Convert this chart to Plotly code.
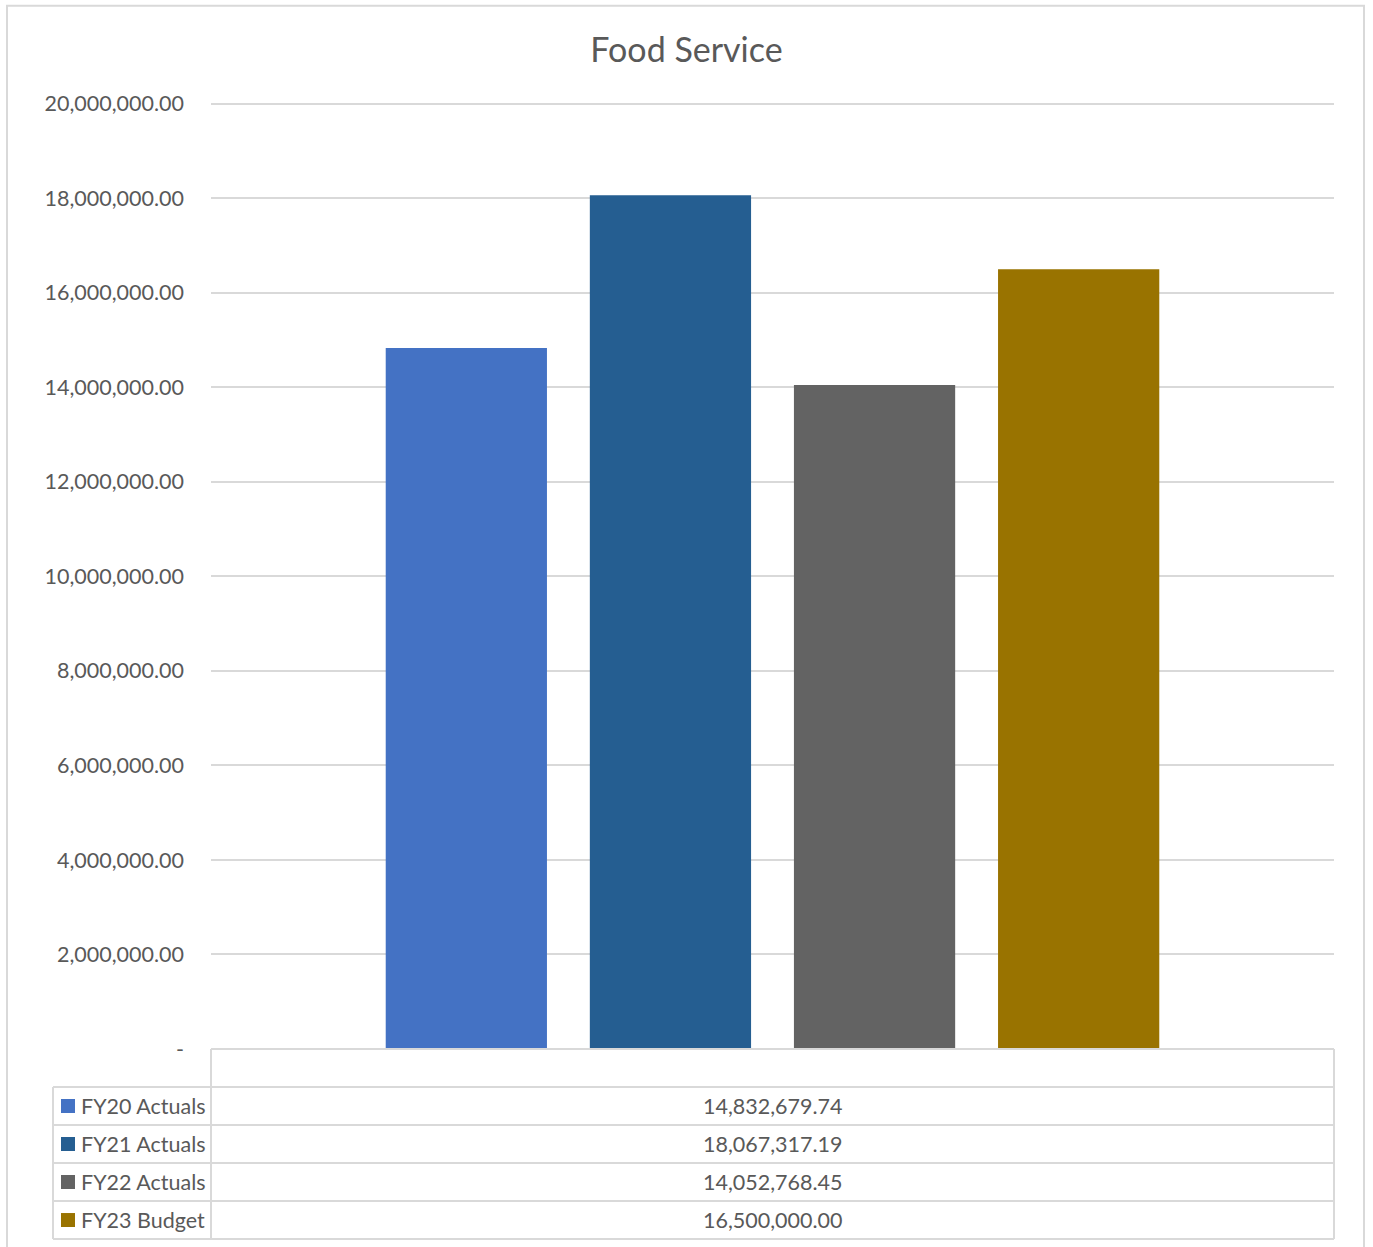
import plotly.graph_objects as go

# ---------------- data ----------------
title_text = "Food Service"
category = ["Food Service"]
series_names = ["FY20 Actuals", "FY21 Actuals", "FY22 Actuals", "FY23 Budget"]
series_values = [14832679.74, 18067317.19, 14052768.45, 16500000.00]
series_colors = ["#4472C4", "#255E91", "#636363", "#997300"]
tick_values = [0, 2e6, 4e6, 6e6, 8e6, 10e6, 12e6, 14e6, 16e6, 18e6, 20e6]
tick_labels = ["-"] + [f"{v:,.2f}" for v in tick_values[1:]]

# ---------------- layout constants (pixels) ----------------
W, H = 1373, 1247
Y_MAX = 20e6
Y_TOP = 20.06e6          # small headroom so the top gridline is drawn
PX_PER_UNIT = 945 / Y_MAX
ML, MR, MB = 211, 39, 198
PH = Y_TOP * PX_PER_UNIT
MT = H - MB - PH
PW = W - ML - MR
TEXT = "#595959"
GRID = "#D9D9D9"
FONT = "Lato"
FS = 21.5
ROW_H = 38
TABLE_LEFT = 53


def px_x(px):
    return (px - ML) / PW


def px_y(py):
    return (H - MB - py) / PH


fig = go.Figure()
for name, val, col in zip(series_names, series_values, series_colors):
    fig.add_trace(go.Bar(x=category, y=[val], name=name, marker_color=col,
                         marker_line_width=0, showlegend=False))

shapes = []
annotations = []

# outer chart border
shapes.append(dict(type="rect", xref="paper", yref="paper",
                   x0=px_x(7), x1=px_x(1364), y0=px_y(1260), y1=px_y(6),
                   line=dict(color=GRID, width=2), fillcolor="rgba(0,0,0,0)",
                   layer="below"))

# data table
base = H - MB
n = len(series_names)
table_bottom = base + ROW_H * (n + 1)
shapes.append(dict(type="line", xref="paper", yref="paper", x0=0, x1=1,
                   y0=px_y(base), y1=px_y(base), line=dict(color=GRID, width=2)))
for i in range(1, n + 2):
    yy = base + ROW_H * i
    shapes.append(dict(type="line", xref="paper", yref="paper",
                       x0=px_x(TABLE_LEFT), x1=1, y0=px_y(yy), y1=px_y(yy),
                       line=dict(color=GRID, width=2)))
for xx, ytop in [(TABLE_LEFT, base + ROW_H), (ML, base), (ML + PW, base)]:
    shapes.append(dict(type="line", xref="paper", yref="paper",
                       x0=px_x(xx), x1=px_x(xx), y0=px_y(ytop), y1=px_y(table_bottom),
                       line=dict(color=GRID, width=2)))

for i, (name, val, col) in enumerate(zip(series_names, series_values, series_colors)):
    cy = base + ROW_H * (i + 1) + ROW_H / 2
    shapes.append(dict(type="rect", xref="paper", yref="paper",
                       x0=px_x(61), x1=px_x(75), y0=px_y(cy + 7), y1=px_y(cy - 7),
                       fillcolor=col, line=dict(width=0)))
    annotations.append(dict(xref="paper", yref="paper", x=px_x(79), y=px_y(cy),
                            xanchor="left", yanchor="middle", showarrow=False,
                            text=name, font=dict(family=FONT, size=FS, color=TEXT)))
    annotations.append(dict(xref="paper", yref="paper", x=0.5, y=px_y(cy),
                            xanchor="center", yanchor="middle", showarrow=False,
                            text=f"{val:,.2f}", font=dict(family=FONT, size=FS, color=TEXT)))

fig.update_layout(
    width=W, height=H,
    margin=dict(l=ML, r=MR, t=MT, b=MB, pad=0),
    paper_bgcolor="white", plot_bgcolor="white",
    title=dict(text=title_text, x=0.5, xanchor="center", xref="container",
               y=1 - 50 / H, yanchor="middle",
               font=dict(family=FONT, size=34, color=TEXT)),
    barmode="group", bargap=0.273, bargroupgap=0.21,
    font=dict(family=FONT, size=FS, color=TEXT),
    shapes=shapes, annotations=annotations,
    showlegend=False,
)
fig.update_xaxes(showticklabels=False, showgrid=False, zeroline=False,
                 showline=False, ticks="")
fig.update_yaxes(range=[0, Y_TOP], tickvals=tick_values, ticktext=tick_labels,
                 showgrid=True, gridcolor=GRID, gridwidth=2, zeroline=False,
                 showline=False, ticks="", ticklabelstandoff=26,
                 tickfont=dict(family=FONT, size=FS, color=TEXT))

fig.write_html("out.html", config={"displayModeBar": False},
               post_script="document.body.style.margin='0';document.body.style.overflow='hidden';")
